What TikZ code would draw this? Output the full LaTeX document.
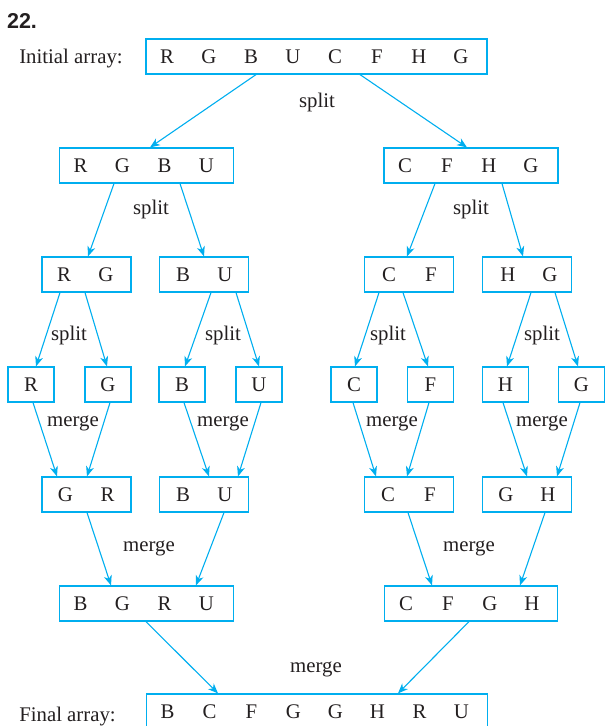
\documentclass[tikz,border=0pt]{standalone}
\usepackage{fontspec}
\setmainfont{Liberation Serif}
\newfontfamily\numfont{Liberation Sans}
\usetikzlibrary{arrows.meta}
\definecolor{boxcyan}{RGB}{0,174,239}
\definecolor{inkgray}{RGB}{35,31,32}
\newcommand\cl[1]{\makebox[42pt]{#1}}
\tikzset{
  every node/.style={text=inkgray, font=\fontsize{20.8}{24}\selectfont},
  arraybox/.style={draw=boxcyan, line width=1.2pt, inner sep=0pt, minimum height=35pt},
  onebox/.style={arraybox, minimum width=46pt},
  twobox/.style={arraybox, minimum width=89pt},
  fourbox/.style={arraybox, minimum width=173pt},
  eightbox/.style={arraybox, minimum width=341pt},
  arr/.style={draw=boxcyan, line width=1.1pt, -{Stealth[length=10pt,width=8pt,inset=3pt]}},
  lbl/.style={inner sep=1pt}
}
\begin{document}
\begin{tikzpicture}[x=1pt,y=-1pt]
\useasboundingbox (0,0) rectangle (611,726);
\clip (0,0) rectangle (611,726);
% title
\node (num) at (22,21) {\numfont\bfseries\fontsize{21.5}{24}\selectfont 22.};
% level 1
\node[eightbox] (L1) at (316.5,56.5) {\cl{R}\cl{G}\cl{B}\cl{U}\cl{C}\cl{F}\cl{H}\cl{G}\hspace*{5pt}};
\node (init) at (71,59) {Initial array:};
% level 2
\node[fourbox] (L2a) at (146.5,165.5) {\cl{R}\cl{G}\cl{B}\cl{U}\hspace*{6pt}};
\node[fourbox] (L2b) at (471,165.5) {\cl{C}\cl{F}\cl{H}\cl{G}\hspace*{6pt}};
% level 3
\node[twobox] (L3a) at (86.5,274.5) {\cl{R}\cl{G}\hspace*{3pt}};
\node[twobox] (L3b) at (204,274.5) {\cl{B}\cl{U}};
\node[twobox] (L3c) at (409,274.5) {\cl{C}\cl{F}\hspace*{-2pt}};
\node[twobox] (L3d) at (527,274.5) {\cl{H}\cl{G}\hspace*{-4pt}};
% level 4
\node[onebox] (L4a) at (31,384.5) {R};
\node[onebox] (L4b) at (108,384.5) {G};
\node[onebox] (L4c) at (182,384.5) {B};
\node[onebox] (L4d) at (259,384.5) {U};
\node[onebox] (L4e) at (354,384.5) {C};
\node[onebox] (L4f) at (430.5,384.5) {F};
\node[onebox] (L4g) at (505.5,384.5) {H};
\node[onebox] (L4h) at (581.5,384.5) {G};
% level 5
\node[twobox] (L5a) at (86.5,494.5) {\cl{G}\cl{R}};
\node[twobox] (L5b) at (204,494.5) {\cl{B}\cl{U}};
\node[twobox] (L5c) at (409,494.5) {\cl{C}\cl{F}};
\node[twobox] (L5d) at (527,494.5) {\cl{G}\cl{H}};
% level 6
\node[fourbox] (L6a) at (146.5,603.5) {\cl{B}\cl{G}\cl{R}\cl{U}\hspace*{6pt}};
\node[fourbox] (L6b) at (471,603.5) {\cl{C}\cl{F}\cl{G}\cl{H}\hspace*{4pt}};
% level 7
\node[eightbox] (L7) at (317,711.5) {\cl{B}\cl{C}\cl{F}\cl{G}\cl{G}\cl{H}\cl{R}\cl{U}\hspace*{5pt}};
\node (fin) at (67.5,717) {Final array:};
% labels
\node[lbl] (s1) at (317,102) {split};
\node[lbl] (s2) at (151,209) {split};
\node[lbl] (s3) at (471,209) {split};
\node[lbl] (s4) at (69,335) {split};
\node[lbl] (s5) at (223,335) {split};
\node[lbl] (s6) at (388,335) {split};
\node[lbl] (s7) at (542,335) {split};
\node[lbl] (m1) at (73,423) {merge};
\node[lbl] (m2) at (223,423) {merge};
\node[lbl] (m3) at (392,423) {merge};
\node[lbl] (m4) at (542,423) {merge};
\node[lbl] (m5) at (149,548) {merge};
\node[lbl] (m6) at (469,548) {merge};
\node[lbl] (m7) at (316,669) {merge};
% split arrows
\draw[arr] ([xshift=-60.5pt]L1.south) -- ([xshift=3.5pt]L2a.north);
\draw[arr] ([xshift=43.5pt]L1.south) -- ([xshift=-4pt]L2b.north);
\draw[arr] ([xshift=-32.5pt]L2a.south) -- ([xshift=1.5pt]L3a.north);
\draw[arr] ([xshift=33.5pt]L2a.south) -- ([xshift=0pt]L3b.north);
\draw[arr] ([xshift=-36pt]L2b.south) -- ([xshift=-2pt]L3c.north);
\draw[arr] ([xshift=31pt]L2b.south) -- ([xshift=-4pt]L3d.north);
\draw[arr] ([xshift=-26.5pt]L3a.south) -- ([xshift=5pt]L4a.north);
\draw[arr] ([xshift=-1.5pt]L3a.south) -- ([xshift=-1pt]L4b.north);
\draw[arr] ([xshift=7pt]L3b.south) -- ([xshift=3pt]L4c.north);
\draw[arr] ([xshift=32pt]L3b.south) -- ([xshift=0pt]L4d.north);
\draw[arr] ([xshift=-30pt]L3c.south) -- ([xshift=1pt]L4e.north);
\draw[arr] ([xshift=-6pt]L3c.south) -- ([xshift=-2.5pt]L4f.north);
\draw[arr] ([xshift=4pt]L3d.south) -- ([xshift=1.5pt]L4g.north);
\draw[arr] ([xshift=28pt]L3d.south) -- ([xshift=-3.5pt]L4h.north);
% merge arrows
\draw[arr] ([xshift=2pt]L4a.south) -- ([xshift=-29.5pt]L5a.north);
\draw[arr] ([xshift=2pt]L4b.south) -- ([xshift=0.5pt]L5a.north);
\draw[arr] ([xshift=2pt]L4c.south) -- ([xshift=5pt]L5b.north);
\draw[arr] ([xshift=2pt]L4d.south) -- ([xshift=34pt]L5b.north);
\draw[arr] ([xshift=-1pt]L4e.south) -- ([xshift=-33pt]L5c.north);
\draw[arr] ([xshift=-1.5pt]L4f.south) -- ([xshift=-2pt]L5c.north);
\draw[arr] ([xshift=-2.5pt]L4g.south) -- ([xshift=0pt]L5d.north);
\draw[arr] ([xshift=-1.5pt]L4h.south) -- ([xshift=30pt]L5d.north);
\draw[arr] ([xshift=0.5pt]L5a.south) -- ([xshift=-35.5pt]L6a.north);
\draw[arr] ([xshift=20pt]L5b.south) -- ([xshift=49.5pt]L6a.north);
\draw[arr] ([xshift=-1pt]L5c.south) -- ([xshift=-39pt]L6b.north);
\draw[arr] ([xshift=18pt]L5d.south) -- ([xshift=49pt]L6b.north);
\draw[arr] ([xshift=-0.5pt]L6a.south) -- ([xshift=-99pt]L7.north);
\draw[arr] ([xshift=-2pt]L6b.south) -- ([xshift=81pt]L7.north);
\end{tikzpicture}
\end{document}
